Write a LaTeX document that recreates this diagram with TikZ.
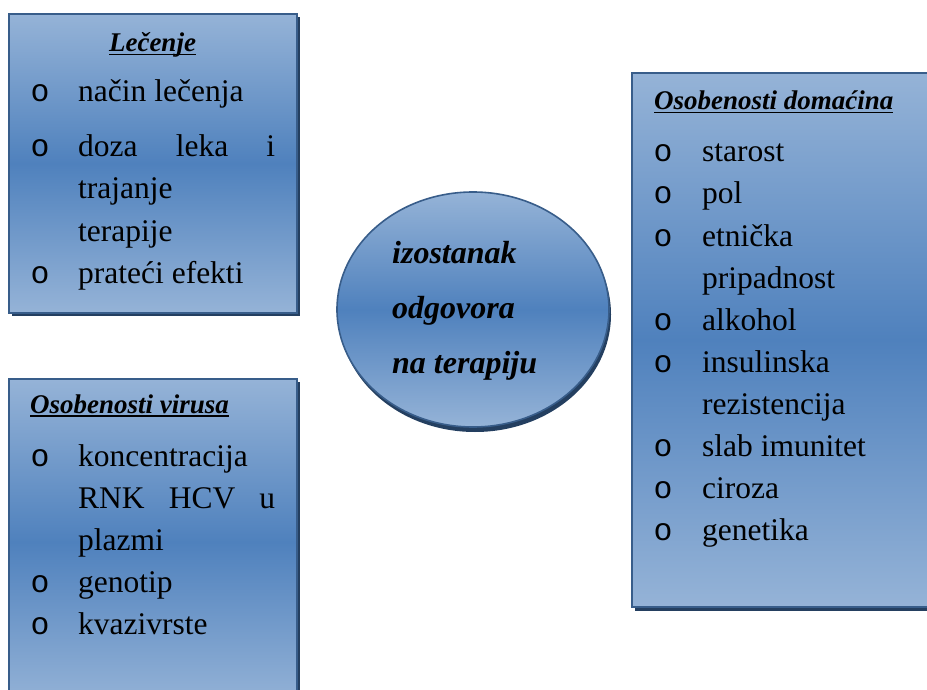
\documentclass[tikz,border=0pt]{standalone}
\usepackage{fontspec}
\setmainfont{Liberation Serif}
\newfontfamily\bulletfont{Liberation Mono}
\definecolor{panellight}{RGB}{149,179,215}
\definecolor{paneldark}{RGB}{79,129,189}
\definecolor{panelline}{RGB}{56,93,138}
\definecolor{panelshade}{RGB}{36,63,96}
% underline drawn just under the baseline, as in the original headings
\newcommand{\headrule}[1]{\setbox0=\hbox{#1}\rlap{\rule[-3.5pt]{\wd0}{1.6pt}}\box0}
\begin{document}
\begin{tikzpicture}[x=1pt, y=-1pt,
    panel/.style={draw=panelline, line width=1.6pt, top color=panellight, bottom color=panellight, middle color=paneldark},
    shade/.style={fill=panelshade},
    item/.style={anchor=base west, inner sep=0pt, font=\fontsize{31.5}{42}\selectfont},
    bullet/.style={anchor=base, inner sep=0pt, font=\bulletfont\fontsize{31.5}{42}\selectfont},
    heading/.style={anchor=base west, inner sep=0pt, font=\fontsize{27}{32}\selectfont\bfseries\itshape},
    centre/.style={anchor=base west, inner sep=0pt, font=\fontsize{32}{40}\selectfont\bfseries\itshape}]
    \clip (0,0) rectangle (927,690);
    \fill[white] (0,0) rectangle (927,690);
    % shadows
    \fill[shade] (12,17) rectangle (300,316);
    \fill[shade] (12,382) rectangle (300,710);
    \fill[shade] (635,76) rectangle (940,611);
    \fill[shade] (475,314.5) ellipse (136 and 117.5);
    % panels
    \draw[panel] (9,14) rectangle (297,313);
    \draw[panel] (9,379) rectangle (297,705);
    \draw[panel] (632,73) rectangle (937,607);
    \draw[panel] (473,309.5) ellipse (136 and 117.5);

    % Lecenje
    \node[heading, anchor=base] (lec) at (152.5,52) {\headrule{Lečenje}};
    \node[bullet] (lec-b1) at (40,102) {o};
    \node[item] (lec-1) at (78,102) {način lečenja};
    \node[bullet] (lec-b2) at (40,157) {o};
    \node[item] (lec-2) at (78,157) {\makebox[197pt][s]{doza leka i}};
    \node[item] (lec-2a) at (78,199) {trajanje};
    \node[item] (lec-2b) at (78,241) {terapije};
    \node[bullet] (lec-b3) at (40,283) {o};
    \node[item] (lec-3) at (78,283) {prateći efekti};

    % Osobenosti virusa
    \node[heading] (vir) at (30,413) {\headrule{Osobenosti virusa}};
    \node[bullet] (vir-b1) at (40,466) {o};
    \node[item] (vir-1) at (78,466) {koncentracija};
    \node[item] (vir-1a) at (78,508) {\makebox[197pt][s]{RNK HCV u}};
    \node[item] (vir-1b) at (78,550) {plazmi};
    \node[bullet] (vir-b2) at (40,592) {o};
    \node[item] (vir-2) at (78,592) {genotip};
    \node[bullet] (vir-b3) at (40,634) {o};
    \node[item] (vir-3) at (78,634) {kvazivrste};

    % Osobenosti domacina
    \node[heading] (dom) at (654,110) {\headrule{Osobenosti domaćina}};
    \node[bullet] (dom-b1) at (663,162) {o};
    \node[item] (dom-1) at (702,162) {starost};
    \node[bullet] (dom-b2) at (663,204) {o};
    \node[item] (dom-2) at (702,204) {pol};
    \node[bullet] (dom-b3) at (663,246) {o};
    \node[item] (dom-3) at (702,246) {etnička};
    \node[item] (dom-3a) at (702,288) {pripadnost};
    \node[bullet] (dom-b4) at (663,330) {o};
    \node[item] (dom-4) at (702,330) {alkohol};
    \node[bullet] (dom-b5) at (663,372) {o};
    \node[item] (dom-5) at (702,372) {insulinska};
    \node[item] (dom-5a) at (702,414) {rezistencija};
    \node[bullet] (dom-b6) at (663,456) {o};
    \node[item] (dom-6) at (702,456) {slab imunitet};
    \node[bullet] (dom-b7) at (663,498) {o};
    \node[item] (dom-7) at (702,498) {ciroza};
    \node[bullet] (dom-b8) at (663,540) {o};
    \node[item] (dom-8) at (702,540) {genetika};

    % centre
    \node[centre] (ctr-1) at (392,263) {izostanak};
    \node[centre] (ctr-2) at (392,318) {odgovora};
    \node[centre] (ctr-3) at (392,373) {na terapiju};
  \end{tikzpicture}
\end{document}
